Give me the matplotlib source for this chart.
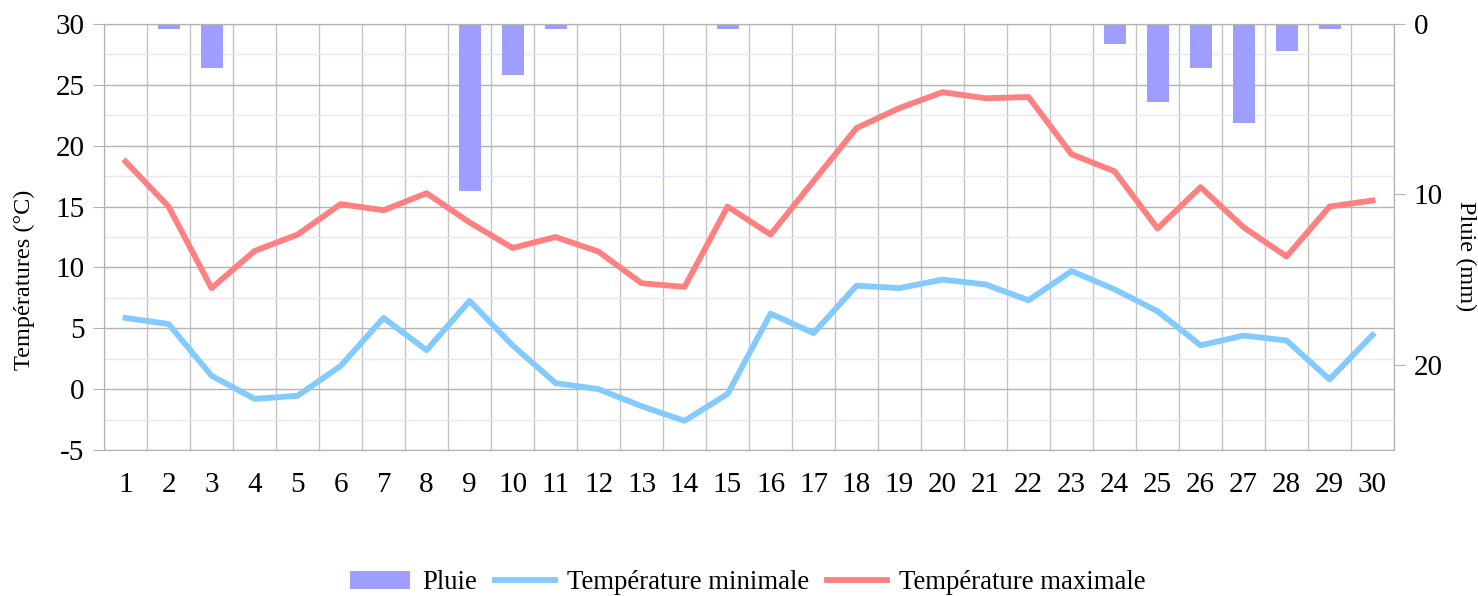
import numpy as np
import matplotlib
matplotlib.use("Agg")
import matplotlib.pyplot as plt
from matplotlib.ticker import MultipleLocator

plt.rcParams['font.family'] = ['Liberation Serif', 'DejaVu Serif']
plt.rcParams['font.size'] = 21
plt.rcParams['axes.unicode_minus'] = False

days = list(range(1, 31))
pluie = [0, 0.3, 2.6, 0, 0, 0, 0, 0, 9.8, 3.0,
         0.3, 0, 0, 0, 0.3, 0, 0, 0, 0, 0,
         0, 0, 0, 1.2, 4.6, 2.6, 5.8, 1.6, 0.3, 0]
t_min = [5.85, 5.35, 1.1, -0.8, -0.55, 1.9, 5.85, 3.2, 7.25, 3.6,
         0.5, 0.0, -1.4, -2.6, -0.4, 6.2, 4.6, 8.5, 8.3, 9.0,
         8.6, 7.3, 9.7, 8.2, 6.4, 3.6, 4.4, 4.0, 0.8, 4.45]
t_max = [18.7, 15.0, 8.3, 11.35, 12.7, 15.2, 14.7, 16.1, 13.7, 11.6,
         12.5, 11.3, 8.7, 8.4, 15.0, 12.7, 17.1, 21.45, 23.1, 24.4,
         23.9, 24.0, 19.3, 17.9, 13.2, 16.6, 13.3, 10.9, 15.0, 15.5]

grid_col = '#b3b3b3'

fig, ax = plt.subplots(figsize=(14.78, 5.96), dpi=100)
fig.subplots_adjust(left=0.0704, right=0.9432, top=0.9597, bottom=0.245)
ax2 = ax.twinx()

l1, = ax.plot(days, t_min, color='#83caff', lw=4.2, label='Température minimale')
l2, = ax.plot(days, t_max, color='#ff8080', lw=4.2, label='Température maximale')
b = ax2.bar(days, pluie, width=0.51, color='#9e9eff', label='Pluie')

ax.set_xlim(0.5, 30.5)
ax.set_ylim(-5, 30)
ax2.set_ylim(25, 0)

ax.set_xticks(days)
ax.xaxis.set_minor_locator(MultipleLocator(1, offset=0.5))
ax.yaxis.set_major_locator(MultipleLocator(5))
ax.yaxis.set_minor_locator(MultipleLocator(5, offset=2.5))
ax2.set_yticks([0, 10, 20])

ax.set_axisbelow(True)
ax.grid(which='major', axis='y', color=grid_col, lw=1)
ax.grid(which='minor', axis='x', color='#c4c4c4', lw=1)
ax.grid(which='minor', axis='y', color='#e6e6fa', lw=1)
ax2.grid(False)

ax.tick_params(axis='x', which='both', length=0, pad=16)
ax.tick_params(axis='y', which='major', length=8, color=grid_col, pad=6)
ax.tick_params(axis='y', which='minor', length=0)
ax2.tick_params(axis='y', length=8, color=grid_col, pad=6)

for a in (ax, ax2):
    for s in a.spines.values():
        s.set_color(grid_col)

ax.set_ylabel('Températures (°C)', fontsize=17.5)
ax.yaxis.set_label_coords(-0.0535, 0.40)
ax2.set_ylabel('Pluie (mm)', fontsize=17.5, rotation=270, va='center')
ax2.yaxis.set_label_coords(1.0555, 0.455)

fig.legend([b, l1, l2], ['Pluie', 'Température minimale', 'Température maximale'],
           loc='center', bbox_to_anchor=(0.506, 0.022), ncol=3, frameon=False,
           fontsize=19.3, handlelength=2.24, handleheight=0.63,
           handletextpad=0.45, columnspacing=0.67)

plt.savefig('out.png')
